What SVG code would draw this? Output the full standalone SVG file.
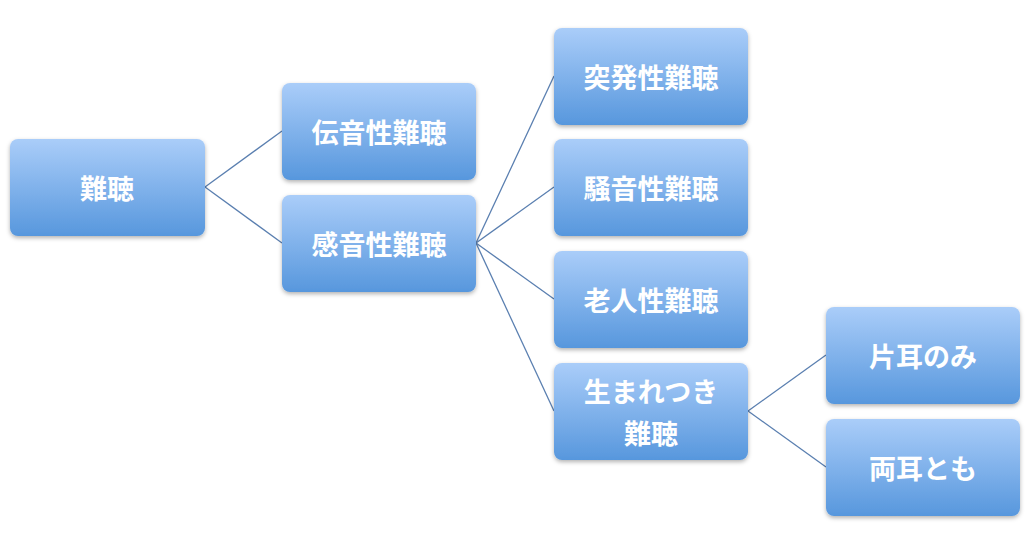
<svg xmlns="http://www.w3.org/2000/svg" width="1036" height="534" viewBox="0 0 1036 534">
<defs>
<linearGradient id="g" x1="0" y1="0" x2="0" y2="1"><stop offset="0" stop-color="#aacdf9"/><stop offset="1" stop-color="#5797dd"/></linearGradient>
<filter id="s" x="-10%" y="-10%" width="120%" height="130%"><feDropShadow dx="0" dy="2" stdDeviation="2" flood-color="#000" flood-opacity="0.3"/></filter>
</defs>
<style>
rect{fill:url(#g);filter:url(#s)}
text{font-family:"Noto Sans CJK JP",sans-serif;font-size:27px;font-weight:bold;fill:#fff;text-anchor:middle;dominant-baseline:central}
#connectors line{stroke:#5a7fb0;stroke-width:1.3}
</style>
<rect width="1036" height="534" fill="#fff" style="fill:#fff;filter:none"/>
<g id="connectors">
<line x1="205" y1="187" x2="282" y2="131"/>
<line x1="205" y1="187" x2="282" y2="243"/>
<line x1="476" y1="243" x2="554" y2="76"/>
<line x1="476" y1="243" x2="554" y2="187"/>
<line x1="476" y1="243" x2="554" y2="299"/>
<line x1="476" y1="243" x2="554" y2="411"/>
<line x1="748" y1="411" x2="826" y2="355"/>
<line x1="748" y1="411" x2="826" y2="467"/>
</g>
<g id="n0"><rect x="10" y="139" width="195" height="97" rx="8"/><text x="107" y="187">難聴</text></g>
<g id="n1"><rect x="282" y="83" width="194" height="97" rx="8"/><text x="379" y="131">伝音性難聴</text></g>
<g id="n2"><rect x="282" y="195" width="194" height="97" rx="8"/><text x="379" y="243">感音性難聴</text></g>
<g id="n3"><rect x="554" y="28" width="194" height="97" rx="8"/><text x="651" y="76">突発性難聴</text></g>
<g id="n4"><rect x="554" y="139" width="194" height="97" rx="8"/><text x="651" y="187">騒音性難聴</text></g>
<g id="n5"><rect x="554" y="251" width="194" height="97" rx="8"/><text x="651" y="299">老人性難聴</text></g>
<g id="n6"><rect x="554" y="363" width="194" height="97" rx="8"/><text x="651" y="390">生まれつき</text><text x="651" y="432">難聴</text></g>
<g id="n7"><rect x="826" y="307" width="194" height="97" rx="8"/><text x="923" y="355">片耳のみ</text></g>
<g id="n8"><rect x="826" y="419" width="194" height="97" rx="8"/><text x="923" y="467">両耳とも</text></g>
</svg>
